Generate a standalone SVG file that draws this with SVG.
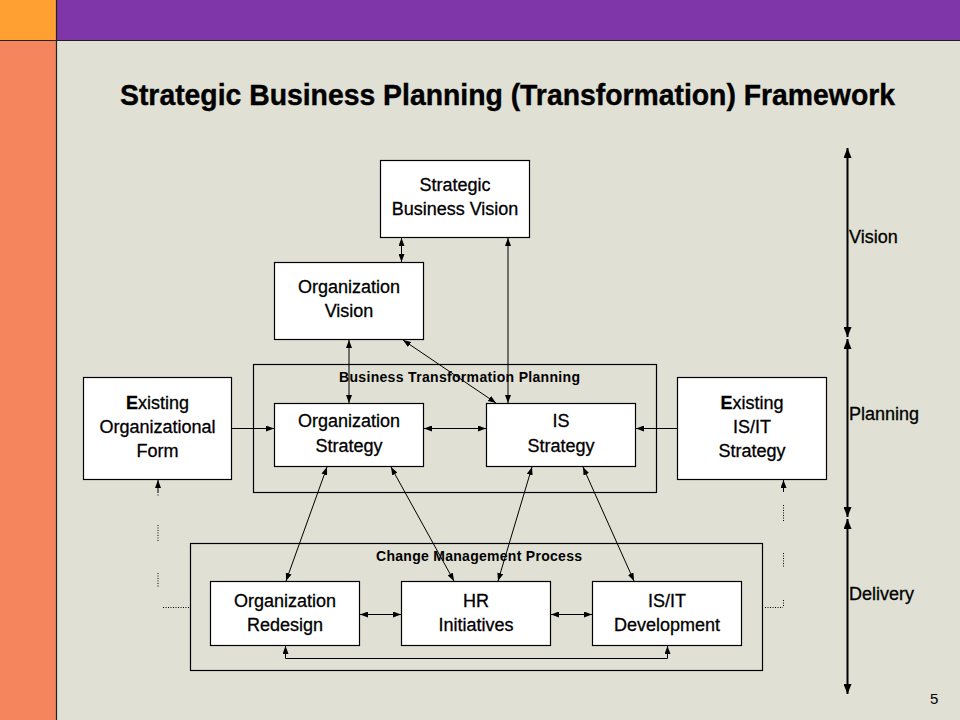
<svg xmlns="http://www.w3.org/2000/svg" width="960" height="720" viewBox="0 0 960 720">
<defs>
<style>
.box{fill:#ffffff;stroke:#000000;stroke-width:1.2}
.cont{fill:none;stroke:#000000;stroke-width:1.2}
.t{font-family:"Liberation Sans",Arial,sans-serif;font-size:18px;fill:#000000;stroke:#000000;stroke-width:0.3;text-anchor:middle}
.cl{font-family:"Liberation Sans",Arial,sans-serif;font-size:14px;font-weight:bold;fill:#000000;text-anchor:middle}
.ax{font-family:"Liberation Sans",Arial,sans-serif;font-size:18px;fill:#000000;stroke:#000000;stroke-width:0.3}
.c{fill:none;stroke:#000000;stroke-width:1}
.dot{fill:none;stroke:#000000;stroke-width:1;stroke-dasharray:1 1.5}
.axis{fill:none;stroke:#000000;stroke-width:2}
</style>
<marker id="ah" viewBox="0 0 8 6" refX="8" refY="3" markerWidth="8" markerHeight="6" markerUnits="userSpaceOnUse" orient="auto-start-reverse">
<path d="M0,0 L8,3 L0,6 z" fill="#000000"/>
</marker>
<marker id="axh" viewBox="0 0 10 8" refX="10" refY="4" markerWidth="10" markerHeight="8" markerUnits="userSpaceOnUse" orient="auto-start-reverse">
<path d="M0,0 L10,4 L0,8 z" fill="#000000"/>
</marker>
</defs>
<g id="background">
<rect x="0" y="0" width="960" height="720" fill="#E0E0D4"/>
<rect x="0" y="0" width="56" height="40" fill="#FFA033"/>
<rect x="56" y="0" width="904" height="40" fill="#7E36A8"/>
<rect x="0" y="40" width="56" height="680" fill="#F4855D"/>
<line x1="0" y1="40.5" x2="960" y2="40.5" stroke="#222222" stroke-width="1.2"/>
<line x1="56.5" y1="0" x2="56.5" y2="720" stroke="#222222" stroke-width="1.2"/>
</g>
<g id="title">
<text x="120" y="105" font-family="Liberation Sans,Arial,sans-serif" font-size="30" font-weight="bold" stroke="#000000" stroke-width="0.4" textLength="775" lengthAdjust="spacingAndGlyphs">Strategic Business Planning (Transformation) Framework</text>
</g>
<g id="containers">
<g id="btp">
<rect class="cont" x="253.5" y="364.5" width="403" height="128"/>
<text class="cl" x="459.5" y="382" textLength="241" lengthAdjust="spacing">Business Transformation Planning</text>
</g>
<g id="cmp">
<rect class="cont" x="190.5" y="543.5" width="572" height="127"/>
<text class="cl" x="479" y="561" textLength="206" lengthAdjust="spacing">Change Management Process</text>
</g>
</g>
<g id="connectors">
<line class="c" x1="401.5" y1="238" x2="401.5" y2="262" marker-start="url(#ah)" marker-end="url(#ah)"/>
<line class="c" x1="508" y1="238" x2="508" y2="403" marker-start="url(#ah)" marker-end="url(#ah)"/>
<line class="c" x1="349" y1="340" x2="349" y2="403" marker-start="url(#ah)" marker-end="url(#ah)"/>
<line class="c" x1="403" y1="340" x2="496" y2="403" marker-start="url(#ah)" marker-end="url(#ah)"/>
<line class="c" x1="424" y1="428.5" x2="486" y2="428.5" marker-start="url(#ah)" marker-end="url(#ah)"/>
<line class="c" x1="232" y1="428.5" x2="274" y2="428.5" marker-end="url(#ah)"/>
<line class="c" x1="677" y1="428.5" x2="636" y2="428.5" marker-end="url(#ah)"/>
<line class="c" x1="327" y1="467" x2="286" y2="581" marker-start="url(#ah)" marker-end="url(#ah)"/>
<line class="c" x1="391" y1="467" x2="454" y2="581" marker-start="url(#ah)" marker-end="url(#ah)"/>
<line class="c" x1="532" y1="467" x2="498" y2="581" marker-start="url(#ah)" marker-end="url(#ah)"/>
<line class="c" x1="583" y1="467" x2="634" y2="581" marker-start="url(#ah)" marker-end="url(#ah)"/>
<line class="c" x1="360" y1="614.5" x2="401" y2="614.5" marker-start="url(#ah)" marker-end="url(#ah)"/>
<line class="c" x1="551" y1="614.5" x2="592" y2="614.5" marker-start="url(#ah)" marker-end="url(#ah)"/>
<path class="c" d="M285.5,646 L285.5,658.5 L667.5,658.5 L667.5,646" marker-start="url(#ah)" marker-end="url(#ah)"/>
<line class="c" x1="158" y1="492" x2="158" y2="480" marker-end="url(#ah)"/>
<line class="dot" x1="158" y1="492" x2="158" y2="496"/>
<line class="dot" x1="158" y1="525" x2="158" y2="542"/>
<line class="dot" x1="158" y1="573" x2="158" y2="588"/>
<line class="dot" x1="163" y1="607.5" x2="189" y2="607.5"/>
<line class="c" x1="783.5" y1="492" x2="783.5" y2="480" marker-end="url(#ah)"/>
<line class="dot" x1="783.5" y1="505" x2="783.5" y2="521"/>
<line class="dot" x1="783.5" y1="553" x2="783.5" y2="568"/>
<line class="dot" x1="783.5" y1="600" x2="783.5" y2="607"/>
<line class="dot" x1="765" y1="607.5" x2="783" y2="607.5"/>
</g>
<g id="n-sbv">
<rect class="box" x="380.5" y="160.5" width="149" height="77"/>
<text class="t" x="455" y="191">Strategic</text>
<text class="t" x="455" y="215">Business Vision</text>
</g>
<g id="n-ov">
<rect class="box" x="274.5" y="262.5" width="149" height="77"/>
<text class="t" x="349" y="293">Organization</text>
<text class="t" x="349" y="317">Vision</text>
</g>
<g id="n-os">
<rect class="box" x="274.5" y="403.5" width="149" height="63"/>
<text class="t" x="349" y="427">Organization</text>
<text class="t" x="349" y="452">Strategy</text>
</g>
<g id="n-is">
<rect class="box" x="486.5" y="403.5" width="149" height="63"/>
<text class="t" x="561" y="427">IS</text>
<text class="t" x="561" y="452">Strategy</text>
</g>
<g id="n-eof">
<rect class="box" x="83.5" y="377.5" width="148" height="102"/>
<text class="t" x="157.5" y="409"><tspan font-weight="bold">E</tspan>xisting</text>
<text class="t" x="157.5" y="433">Organizational</text>
<text class="t" x="157.5" y="457">Form</text>
</g>
<g id="n-eis">
<rect class="box" x="677.5" y="377.5" width="149" height="102"/>
<text class="t" x="752" y="409"><tspan font-weight="bold">E</tspan>xisting</text>
<text class="t" x="752" y="433">IS/IT</text>
<text class="t" x="752" y="457">Strategy</text>
</g>
<g id="n-or">
<rect class="box" x="210.5" y="581.5" width="149" height="64"/>
<text class="t" x="285" y="607">Organization</text>
<text class="t" x="285" y="631">Redesign</text>
</g>
<g id="n-hr">
<rect class="box" x="401.5" y="581.5" width="149" height="64"/>
<text class="t" x="476" y="607">HR</text>
<text class="t" x="476" y="631">Initiatives</text>
</g>
<g id="n-isit">
<rect class="box" x="592.5" y="581.5" width="149" height="64"/>
<text class="t" x="667" y="607">IS/IT</text>
<text class="t" x="667" y="631">Development</text>
</g>
<g id="axis">
<line class="axis" x1="847.5" y1="148" x2="847.5" y2="337" marker-start="url(#axh)" marker-end="url(#axh)"/>
<line class="axis" x1="847.5" y1="339" x2="847.5" y2="517" marker-start="url(#axh)" marker-end="url(#axh)"/>
<line class="axis" x1="847.5" y1="519" x2="847.5" y2="694" marker-start="url(#axh)" marker-end="url(#axh)"/>
<text class="ax" x="849" y="243">Vision</text>
<text class="ax" x="849" y="420">Planning</text>
<text class="ax" x="849" y="600">Delivery</text>
</g>
<g id="page">
<text x="930" y="704" font-family="Liberation Sans,Arial,sans-serif" font-size="15" fill="#000000">5</text>
</g>
</svg>
